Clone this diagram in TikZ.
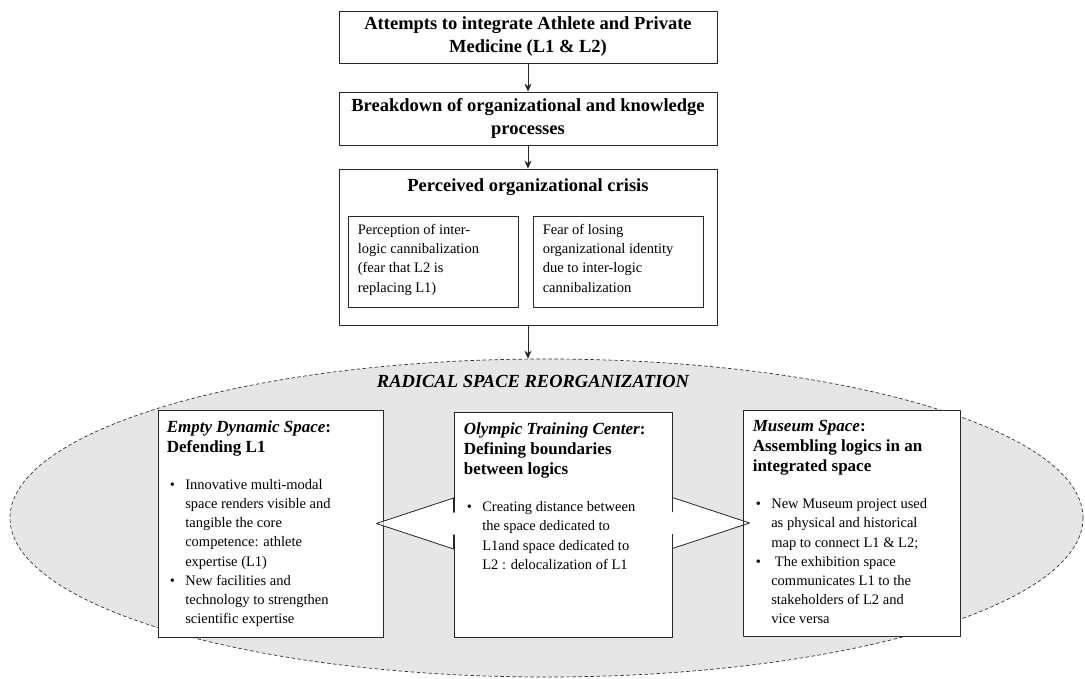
\documentclass[tikz,border=0pt]{standalone}
\usepackage{fontspec}
\setmainfont{Liberation Serif}
\usetikzlibrary{arrows.meta,shapes.geometric,positioning}
\definecolor{reorgfill}{RGB}{230,230,230}
\newcommand{\boxrows}[1]{\begin{tabular}[t]{@{}l@{}}#1\end{tabular}}
\newcommand{\bulletrows}[1]{\begin{tabular}[t]{@{}p{15.5pt}@{}l@{}}#1\end{tabular}}
\newcommand{\dotitem}{\textbullet}
\begin{document}
\begin{tikzpicture}[x=1pt,y=-1pt,>={Stealth[length=8pt,width=7pt]},line join=round,
    box/.style={draw=black!85,line width=0.8pt,fill=white,inner sep=0pt},
    titletext/.style={font=\fontsize{18.5}{23}\selectfont\bfseries,align=center},
    headtext/.style={font=\fontsize{17}{20}\selectfont\bfseries,inner sep=0pt,anchor=base west},
    bodytext/.style={font=\fontsize{14.5}{19.2}\selectfont,inner sep=0pt,anchor=base west},
    link/.style={->,line width=0.8pt,draw=black!85}]
  \useasboundingbox (0,0) rectangle (1085,679);
  % reorganization space
  \node[ellipse,draw=black!80,dash pattern=on 3.5pt off 2.5pt,line width=0.7pt,fill=reorgfill,
        minimum width=1073,minimum height=318,inner sep=0pt] (space) at (546.5,518) {};
  \node[titletext,font=\fontsize{18.5}{23}\selectfont\bfseries\itshape,anchor=base] (reorg) at (533,387) {RADICAL SPACE REORGANIZATION};
  % top chain
  \node[box,titletext,minimum width=378,minimum height=52] (attempt) at (528,37) {Attempts to integrate Athlete and Private\\Medicine (L1 \& L2)};
  \node[box,titletext,minimum width=378,minimum height=53] (breakdown) at (528,118.5) {Breakdown of organizational and knowledge\\processes};
  \node[box,minimum width=378,minimum height=156] (crisis) at (528,247) {};
  \node[titletext,anchor=base] (crisistitle) at (528,192) {Perceived organizational crisis};
  \node[box,minimum width=170,minimum height=91] (percep) at (433,261.5) {};
  \node[box,minimum width=170,minimum height=91] (fear) at (618,261.5) {};
  \draw[link] (attempt) -- (breakdown);
  \draw[link] (breakdown) -- (crisis);
  \draw[link] (crisis) -- (crisis.south |- space.north);
  % three spaces
  \node[box,minimum width=225,minimum height=227] (lbox) at (270.5,523.5) {};
  \node[box,minimum width=218,minimum height=225] (mbox) at (563,524.5) {};
  \node[box,minimum width=217,minimum height=226] (rbox) at (851.5,523) {};
  % double block arrow
  \coordinate (ltip) at ([xshift=-7pt]lbox.east);
  \coordinate (rtip) at ([xshift=7pt]rbox.west);
  \coordinate (lbase) at (mbox.west |- ltip);
  \coordinate (rbase) at (mbox.east |- rtip);
  \begin{scope}
    \clip (lbox.east |- space.north) rectangle (rbox.west |- space.south);
    \fill[white] (ltip) -- ([yshift=25.5pt]lbase) -- ([yshift=11pt]lbase) -- ([yshift=11pt]rbase)
      -- ([yshift=25.5pt]rbase) -- (rtip) -- ([yshift=-25.5pt]rbase) -- ([yshift=-11pt]rbase)
      -- ([yshift=-11pt]lbase) -- ([yshift=-25.5pt]lbase) -- cycle;
  \end{scope}
  \draw[line width=0.8pt,draw=black!85] ([yshift=11pt]lbase) -- ([yshift=25.5pt]lbase) -- (ltip) -- ([yshift=-25.5pt]lbase) -- ([yshift=-11pt]lbase);
  \draw[line width=0.8pt,draw=black!85] ([yshift=11pt]rbase) -- ([yshift=25.5pt]rbase) -- (rtip) -- ([yshift=-25.5pt]rbase) -- ([yshift=-11pt]rbase);
  % texts
  \node[bodytext] (perceptext) at ([xshift=10pt,yshift=-19pt]percep.north west) {\boxrows{Perception of inter-\\logic cannibalization\\(fear that L2 is\\replacing L1)}};
  \node[bodytext] (feartext) at ([xshift=10pt,yshift=-19pt]fear.north west) {\boxrows{Fear of losing\\organizational identity\\due to inter-logic\\cannibalization}};
  \node[headtext] (lhead) at ([xshift=9pt,yshift=-22.7pt]lbox.north west) {\boxrows{\textit{Empty Dynamic Space}:\\Defending L1}};
  \node[bodytext] (llist) at ([xshift=12pt,yshift=-79.7pt]lbox.north west) {\bulletrows{\dotitem & Innovative multi-modal\\ & space renders visible and\\ & tangible the core\\ & competence: athlete\\ & expertise (L1)\\ \dotitem & New facilities and\\ & technology to strengthen\\ & scientific expertise}};
  \node[headtext] (mhead) at ([xshift=10pt,yshift=-23pt]mbox.north west) {\boxrows{\textit{Olympic Training Center}:\\Defining boundaries\\between logics}};
  \node[bodytext] (mlist) at ([xshift=13pt,yshift=-100pt]mbox.north west) {\bulletrows{\dotitem & Creating distance between\\ & the space dedicated to\\ & L1and space dedicated to\\ & L2 : delocalization of L1}};
  \node[headtext] (rhead) at ([xshift=10pt,yshift=-22pt]rbox.north west) {\boxrows{\textit{Museum Space}:\\Assembling logics in an\\integrated space}};
  \node[bodytext] (rlist) at ([xshift=13pt,yshift=-99pt]rbox.north west) {\bulletrows{\dotitem & New Museum project used\\ & as physical and historical\\ & map to connect L1 \& L2;\\ \dotitem & \ The exhibition space\\ & communicates L1 to the\\ & stakeholders of L2 and\\ & vice versa}};
\end{tikzpicture}
\end{document}
